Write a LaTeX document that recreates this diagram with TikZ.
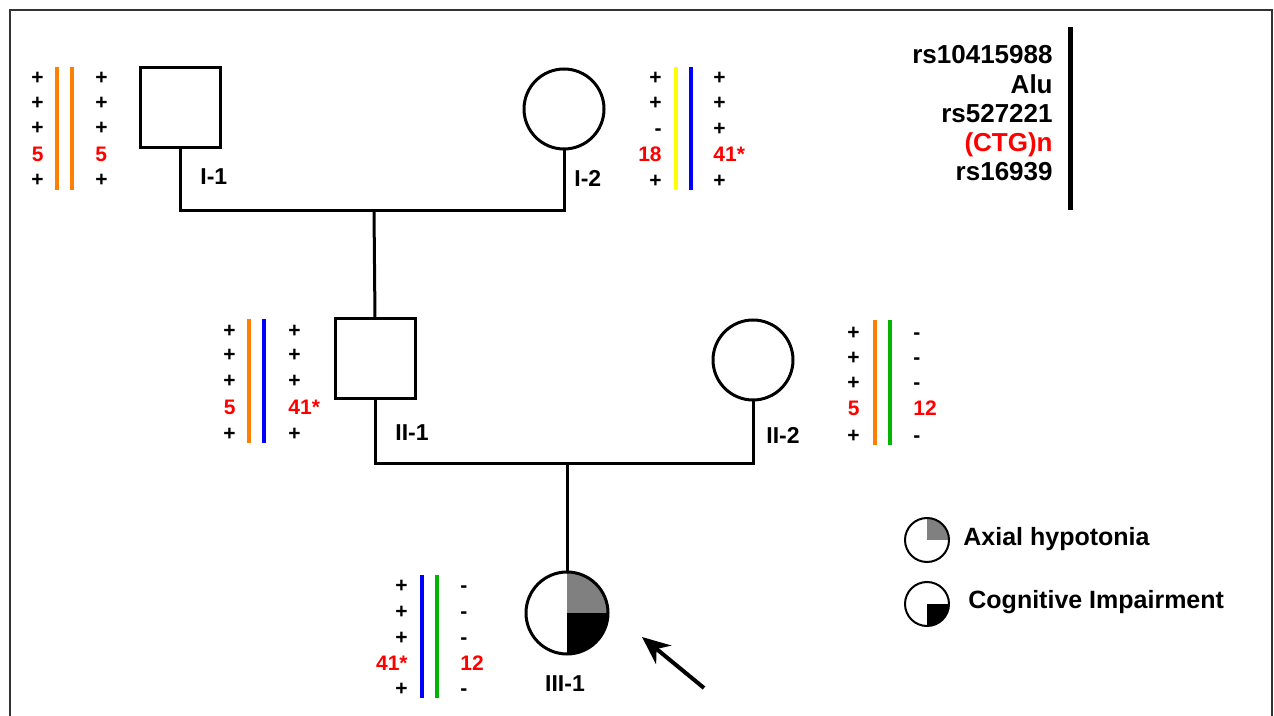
\documentclass[tikz,border=0pt]{standalone}
\usepackage{fontspec}
\setmainfont{Liberation Sans}
\usetikzlibrary{arrows.meta}
\definecolor{haporange}{HTML}{FF8000}
\definecolor{hapyellow}{HTML}{FFFF00}
\definecolor{hapblue}{HTML}{0000FF}
\definecolor{hapgreen}{HTML}{00B400}
\definecolor{ctgred}{HTML}{FF0000}
\definecolor{quadgray}{HTML}{808080}

\begin{document}
\begin{tikzpicture}[x=0.5pt, y=-0.5pt, >={Stealth[length=14pt, width=12pt]},
    male/.style={draw, line width=1.5pt, minimum size=40pt, inner sep=0pt, outer sep=0pt},
    female/.style={male, circle},
    line/.style={line width=1.5pt},
    bar/.style={line width=2pt},
    allele/.style={font=\fontsize{10.5}{12}\selectfont\bfseries, inner sep=0pt, text height=7.5pt, text depth=0pt},
    gen/.style={font=\fontsize{11.5}{14}\selectfont\bfseries, inner sep=0pt},
    marker/.style={font=\fontsize{13}{15}\selectfont\bfseries, inner sep=0pt, anchor=base east},
    legtext/.style={font=\fontsize{12.5}{15}\selectfont\bfseries, inner sep=0pt, anchor=base west},
    hypo/.style={path picture={\fill[quadgray] (path picture bounding box.center) rectangle (path picture bounding box.north east);}},
    cogn/.style={path picture={\fill (path picture bounding box.center) rectangle (path picture bounding box.south east);}}]
    \useasboundingbox (0,0) rectangle (1274,716);

    % Frame
    \draw[line width=1pt, black!80] (10,716) -- (10,10) -- (1272,10) -- (1272,716);

    % Generation I
    \node[male] (I1) at (180,108) {};
    \node[female] (I2) at (564,109) {};
    \node[gen, anchor=west] (lI1) at (200,177) {I-1};
    \node[gen, anchor=west] (lI2) at (574,178) {I-2};
    \coordinate (m1) at (374,211);
    \draw[line] (I1.south) |- (m1) -| (I2.south);

    % Generation II
    \node[male] (II1) at (375,359) {};
    \node[female] (II2) at (753,360) {};
    \node[gen, anchor=west] (lII1) at (395,433) {II-1};
    \node[gen, anchor=west] (lII2) at (766,435) {II-2};
    \draw[line] (m1) -- (II1.north);
    \coordinate (m2) at (567,463);
    \draw[line] (II1.south) |- (m2) -| (II2.south);

    % Generation III (proband)
    \node[female, minimum size=41pt, path picture={
        \fill[quadgray] (path picture bounding box.center) rectangle (path picture bounding box.north east);
        \fill (path picture bounding box.center) rectangle (path picture bounding box.south east);}] (III1) at (567,613) {};
    \node[gen] (lIII1) at (565,684) {III-1};
    \draw[line] (m2) -- (III1.north);

    % Proband arrow
    \coordinate (ptr) at (704,688);
    \coordinate (ptrtip) at (642,637);
    \draw[->, line width=2pt] (ptr) -- (ptrtip);

    % Haplotypes I-1
    \foreach \y/\a/\b/\c [count=\i] in {77/+/+/black, 102/+/+/black, 127/+/+/black, 154/5/5/ctgred, 179/+/+/black} {
        \node[allele, anchor=east, text=\c] (hI1a\i) at (44,\y) {\a};
        \node[allele, anchor=west, text=\c] (hI1b\i) at (95,\y) {\b};
    }
    \draw[bar, haporange] (57,67) -- (57,190);
    \draw[bar, haporange] (72,67) -- (72,190);

    % Haplotypes I-2
    \foreach \y/\a/\b/\c [count=\i] in {77/+/+/black, 102/+/+/black, 128/-/+/black, 154/18/41*/ctgred, 180/+/+/black} {
        \node[allele, anchor=east, text=\c] (hI2a\i) at (662,\y) {\a};
        \node[allele, anchor=west, text=\c] (hI2b\i) at (713,\y) {\b};
    }
    \draw[bar, hapyellow] (676,67) -- (676,190);
    \draw[bar, hapblue] (691,67) -- (691,190);

    % Haplotypes II-1
    \foreach \y/\a/\b/\c [count=\i] in {330/+/+/black, 354/+/+/black, 380/+/+/black, 407/5/41*/ctgred, 433/+/+/black} {
        \node[allele, anchor=east, text=\c] (hII1a\i) at (236,\y) {\a};
        \node[allele, anchor=west, text=\c] (hII1b\i) at (288,\y) {\b};
    }
    \draw[bar, haporange] (249,319) -- (249,443);
    \draw[bar, hapblue] (264,319) -- (264,443);

    % Haplotypes II-2
    \foreach \y/\a/\b/\c [count=\i] in {332/+/-/black, 357/+/-/black, 382/+/-/black, 408/5/12/ctgred, 435/+/-/black} {
        \node[allele, anchor=east, text=\c] (hII2a\i) at (860,\y) {\a};
        \node[allele, anchor=west, text=\c] (hII2b\i) at (913,\y) {\b};
    }
    \draw[bar, haporange] (875,320) -- (875,445);
    \draw[bar, hapgreen] (890,320) -- (890,445);

    % Haplotypes III-1
    \foreach \y/\a/\b/\c [count=\i] in {585/+/-/black, 611/+/-/black, 637/+/-/black, 663/41*/12/ctgred, 688/+/-/black} {
        \node[allele, anchor=east, text=\c] (hIII1a\i) at (408,\y) {\a};
        \node[allele, anchor=west, text=\c] (hIII1b\i) at (460,\y) {\b};
    }
    \draw[bar, hapblue] (422,575) -- (422,698);
    \draw[bar, hapgreen] (437,575) -- (437,698);

    % Marker key
    \node[marker] (k1) at (1053,64) {rs10415988};
    \node[marker] (k2) at (1053,94) {Alu};
    \node[marker] (k3) at (1053,123) {rs527221};
    \node[marker, text=ctgred] (k4) at (1053,152) {(CTG)n};
    \node[marker] (k5) at (1053,181) {rs16939};
    \draw[line width=2.5pt] (1070,27) -- (1070,210);

    % Legend
    \node[female, minimum size=22pt, line width=1pt, hypo] (leg1) at (927,540) {};
    \node[legtext] (leg1t) at (963,545) {Axial hypotonia};
    \node[female, minimum size=22pt, line width=1pt, cogn] (leg2) at (927,604) {};
    \node[legtext] (leg2t) at (968,608) {Cognitive Impairment};
\end{tikzpicture}
\end{document}
